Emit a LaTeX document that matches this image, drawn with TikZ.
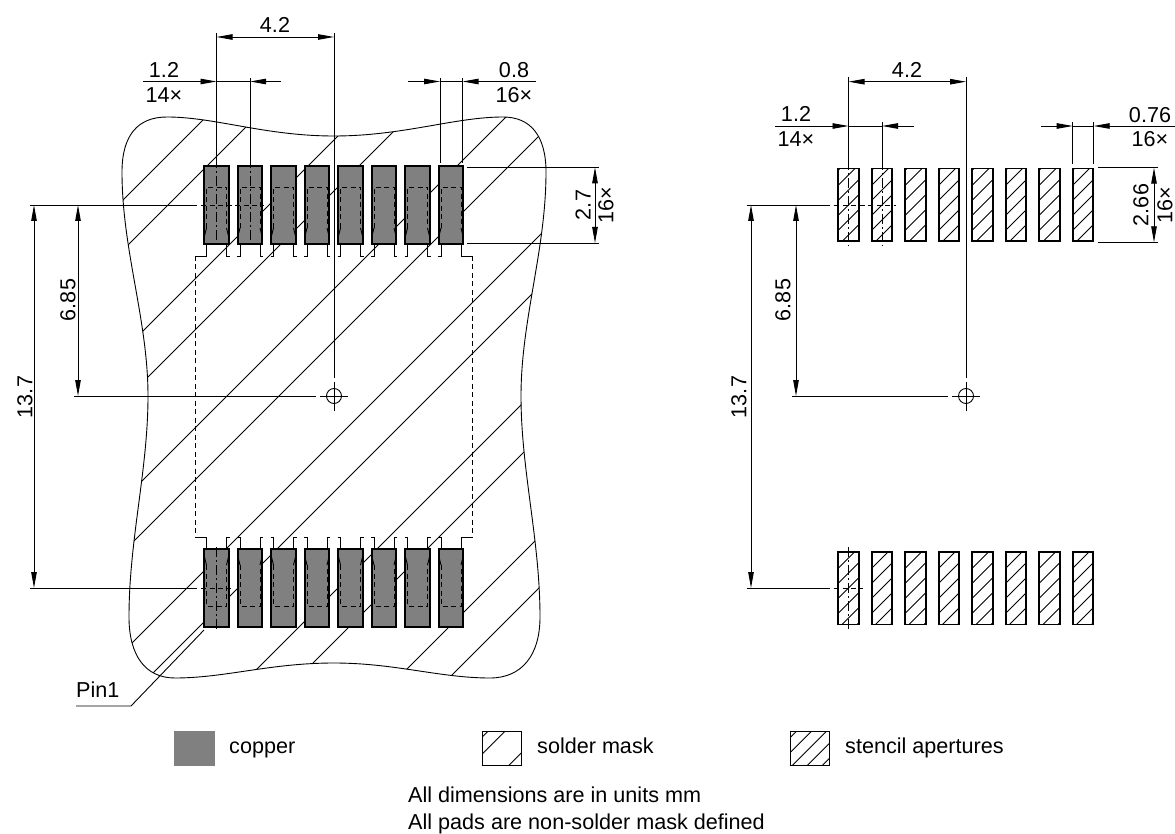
\documentclass[tikz,border=0pt]{standalone}
\usepackage{fontspec}
\setmainfont{Liberation Sans}
\usetikzlibrary{arrows.meta}
\pgfdeclarelayer{edgelayer}
\pgfdeclarelayer{nodelayer}
\pgfsetlayers{edgelayer,nodelayer,main}
\newcommand{\maskoutline}{(167,117) .. controls (215,117) and (265,136) .. (334,136) .. controls (403,136) and (455,117) .. (503,117) .. controls (530,117) and (546,135) .. (546,172) .. controls (546,250) and (521,320) .. (521,396) .. controls (521,470) and (540,540) .. (540,617) .. controls (540,655) and (522,678) .. (490,678) .. controls (440,678) and (395,663) .. (334,663) .. controls (270,663) and (225,678) .. (175,678) .. controls (145,678) and (129,655) .. (129,617) .. controls (129,540) and (148,470) .. (148,396) .. controls (148,320) and (122,250) .. (122,172) .. controls (122,135) and (138,117) .. (167,117) -- cycle}
\tikzstyle{none}=[inner sep=0pt]
\tikzstyle{dimtext}=[inner sep=0pt,font=\fontsize{21.6}{26}\selectfont]
\tikzstyle{notetext}=[dimtext,anchor=base west]
\tikzstyle{dimtextup}=[dimtext,rotate=90]
\tikzstyle{copper}=[rectangle,inner sep=0pt,fill=black!50,draw=black,line width=1.8pt,minimum width=24.3pt,minimum height=77.3pt]
\tikzstyle{copperkey}=[rectangle,inner sep=0pt,fill=black!50,draw=black!50,line width=1pt,minimum width=40pt,minimum height=34pt]
\tikzstyle{stencilhatch}=[path picture={\foreach \c in {-90,-75,...,90} \draw [line width=0.8pt,shift={(path picture bounding box.center)}] (\c+60,-60) -- (\c-60,60);}]
\tikzstyle{stencil}=[rectangle,inner sep=0pt,draw=black,stencilhatch,line width=1.8pt,minimum width=20.6pt,minimum height=72.8pt]
\tikzstyle{stencilkey}=[rectangle,inner sep=0pt,draw=black,stencilhatch,line width=0.9pt,minimum width=39pt,minimum height=34pt]
\tikzstyle{maskkey}=[rectangle,inner sep=0pt,draw=black,line width=0.9pt,minimum width=39pt,minimum height=34pt,path picture={\foreach \c in {-31,-14,24} \draw [line width=0.8pt,shift={(path picture bounding box.center)}] (\c+60,-60) -- (\c-60,60);}]
\tikzstyle{simple}=[-,draw=black,line width=0.9pt]
\tikzstyle{dimension}=[-{Triangle[length=16pt,width=5.5pt]},draw=black,line width=0.9pt]
\tikzstyle{twoway}=[{Triangle[length=16pt,width=5.5pt]}-{Triangle[length=16pt,width=5.5pt]},draw=black,line width=0.9pt]
\tikzstyle{hiddenline}=[-,draw=black,line width=0.8pt,dash pattern=on 5pt off 3.5pt]
\tikzstyle{centerline}=[-,draw=black,line width=0.8pt,dash pattern=on 10pt off 3pt on 2pt off 3pt]
\begin{document}
\begin{tikzpicture}[x=1pt,y=-1pt]
	\useasboundingbox (0,0) rectangle (1175,834);
	\begin{pgfonlayer}{edgelayer}
		\draw [style=simple] \maskoutline;
		\begin{scope}
			\clip \maskoutline;
			\foreach \c in {323,373,474,525,623,675,775,826,926,976,1076,1127}
				\draw [style=simple] (\c-800,800) -- (\c-50,50);
		\end{scope}
	\end{pgfonlayer}
	\begin{pgfonlayer}{nodelayer}
		\node [style=copper] (0) at (216.5, 205) {};
		\node [style=copper] (1) at (250, 205) {};
		\node [style=copper] (2) at (283.5, 205) {};
		\node [style=copper] (3) at (317, 205) {};
		\node [style=copper] (4) at (350.5, 205) {};
		\node [style=copper] (5) at (384, 205) {};
		\node [style=copper] (6) at (417.5, 205) {};
		\node [style=copper] (7) at (451, 205) {};
		\node [style=copper] (8) at (216.5, 588) {};
		\node [style=copper] (9) at (250, 588) {};
		\node [style=copper] (10) at (283.5, 588) {};
		\node [style=copper] (11) at (317, 588) {};
		\node [style=copper] (12) at (350.5, 588) {};
		\node [style=copper] (13) at (384, 588) {};
		\node [style=copper] (14) at (417.5, 588) {};
		\node [style=copper] (15) at (451, 588) {};
		\node [style=stencil] (16) at (848.5, 205) {};
		\node [style=stencil] (17) at (882, 205) {};
		\node [style=stencil] (18) at (915.5, 205) {};
		\node [style=stencil] (19) at (949, 205) {};
		\node [style=stencil] (20) at (982.5, 205) {};
		\node [style=stencil] (21) at (1016, 205) {};
		\node [style=stencil] (22) at (1049.5, 205) {};
		\node [style=stencil] (23) at (1083, 205) {};
		\node [style=stencil] (24) at (848.5, 588) {};
		\node [style=stencil] (25) at (882, 588) {};
		\node [style=stencil] (26) at (915.5, 588) {};
		\node [style=stencil] (27) at (949, 588) {};
		\node [style=stencil] (28) at (982.5, 588) {};
		\node [style=stencil] (29) at (1016, 588) {};
		\node [style=stencil] (30) at (1049.5, 588) {};
		\node [style=stencil] (31) at (1083, 588) {};
		\node [style=copperkey] (32) at (194.3, 748) {};
		\node [style=maskkey] (33) at (502.2, 748) {};
		\node [style=stencilkey] (34) at (809.7, 748) {};
	\end{pgfonlayer}
	\foreach \x in {216.5,250,283.5,317,350.5,384,417.5,451} {
		\draw [style=hiddenline] (\x-10,228) -- (\x-10,187) -- (\x+10,187) -- (\x+10,228);
		\draw [style=hiddenline] (\x-10,565) -- (\x-10,606) -- (\x+10,606) -- (\x+10,565);
		\draw [style=simple] (\x-10,228) -- (\x-12,236) -- (\x-12,245) (\x+10,228) -- (\x+12,236) -- (\x+12,245);
		\draw [style=simple] (\x-10,565) -- (\x-12,557) -- (\x-12,548) (\x+10,565) -- (\x+12,557) -- (\x+12,548);
		\draw [style=simple] (\x-13,256) -- (\x-10,256) -- (\x-10,245) (\x+13,256) -- (\x+10,256) -- (\x+10,245);
		\draw [style=simple] (\x-13,537.5) -- (\x-10,537.5) -- (\x-10,548) (\x+13,537.5) -- (\x+10,537.5) -- (\x+10,548);
	}
	\node [style=none] (35) at (195.7, 256) {};
	\node [style=none] (36) at (206.5, 256) {};
	\node [style=none] (37) at (461, 256) {};
	\node [style=none] (38) at (472.5, 256) {};
	\node [style=none] (39) at (195.7, 537.5) {};
	\node [style=none] (40) at (206.5, 537.5) {};
	\node [style=none] (41) at (461, 537.5) {};
	\node [style=none] (42) at (472.5, 537.5) {};
	\node [style=none] (43) at (216.5, 33) {};
	\node [style=none] (44) at (216.5, 158) {};
	\node [style=none] (45) at (216.5, 247) {};
	\node [style=none] (46) at (334, 33) {};
	\node [style=none] (47) at (334, 378) {};
	\node [style=none] (48) at (334, 382) {};
	\node [style=none] (49) at (334, 411) {};
	\node [style=none] (50) at (74, 396) {};
	\node [style=none] (51) at (316, 396) {};
	\node [style=none] (52) at (320, 396) {};
	\node [style=none] (53) at (348, 396) {};
	\node [style=none] (54) at (216.5, 37) {};
	\node [style=none] (55) at (334, 37) {};
	\node [style=none] (56) at (143, 81.5) {};
	\node [style=none] (57) at (216.5, 81.5) {};
	\node [style=none] (58) at (250, 81.5) {};
	\node [style=none] (59) at (281, 81.5) {};
	\node [style=none] (60) at (250, 78) {};
	\node [style=none] (61) at (250, 158) {};
	\node [style=none] (62) at (250, 247) {};
	\node [style=none] (63) at (440, 78) {};
	\node [style=none] (64) at (440, 163) {};
	\node [style=none] (65) at (462.5, 78) {};
	\node [style=none] (66) at (462.5, 163) {};
	\node [style=none] (67) at (408, 81.5) {};
	\node [style=none] (68) at (440, 81.5) {};
	\node [style=none] (69) at (462.5, 81.5) {};
	\node [style=none] (70) at (536, 81.5) {};
	\node [style=none] (71) at (467, 167.3) {};
	\node [style=none] (72) at (599, 167.3) {};
	\node [style=none] (73) at (467, 243) {};
	\node [style=none] (74) at (599, 243) {};
	\node [style=none] (75) at (595, 167.3) {};
	\node [style=none] (76) at (595, 243) {};
	\node [style=none] (77) at (30, 205) {};
	\node [style=none] (78) at (197, 205) {};
	\node [style=none] (79) at (201, 205) {};
	\node [style=none] (80) at (264, 205) {};
	\node [style=none] (81) at (30, 588) {};
	\node [style=none] (82) at (197, 588) {};
	\node [style=none] (83) at (201, 588) {};
	\node [style=none] (84) at (231, 588) {};
	\node [style=none] (85) at (216.5, 547) {};
	\node [style=none] (86) at (216.5, 630) {};
	\node [style=none] (87) at (78, 205) {};
	\node [style=none] (88) at (78, 396) {};
	\node [style=none] (89) at (34, 205) {};
	\node [style=none] (90) at (34, 588) {};
	\node [style=none] (91) at (76, 706) {};
	\node [style=none] (92) at (131, 706) {};
	\node [style=none] (93) at (204, 630) {};
	\node [style=none] (94) at (334, 396) {};
	\node [style=none] (95) at (848.5, 77) {};
	\node [style=none] (96) at (848.5, 160) {};
	\node [style=none] (97) at (848.5, 246) {};
	\node [style=none] (98) at (966, 77) {};
	\node [style=none] (99) at (966, 378) {};
	\node [style=none] (100) at (966, 382) {};
	\node [style=none] (101) at (966, 411) {};
	\node [style=none] (102) at (792, 396) {};
	\node [style=none] (103) at (948, 396) {};
	\node [style=none] (104) at (952, 396) {};
	\node [style=none] (105) at (980, 396) {};
	\node [style=none] (106) at (848.5, 81.7) {};
	\node [style=none] (107) at (966, 81.7) {};
	\node [style=none] (108) at (775, 126) {};
	\node [style=none] (109) at (848.5, 126) {};
	\node [style=none] (110) at (882, 126) {};
	\node [style=none] (111) at (913.6, 126) {};
	\node [style=none] (112) at (882, 122) {};
	\node [style=none] (113) at (882, 160) {};
	\node [style=none] (114) at (882, 246) {};
	\node [style=none] (115) at (1072.7, 122) {};
	\node [style=none] (116) at (1072.7, 164) {};
	\node [style=none] (117) at (1093.7, 122) {};
	\node [style=none] (118) at (1093.7, 164) {};
	\node [style=none] (119) at (1041, 126) {};
	\node [style=none] (120) at (1072.7, 126) {};
	\node [style=none] (121) at (1093.7, 126) {};
	\node [style=none] (122) at (1175, 126) {};
	\node [style=none] (123) at (1098, 167.7) {};
	\node [style=none] (124) at (1158, 167.7) {};
	\node [style=none] (125) at (1098, 242.3) {};
	\node [style=none] (126) at (1158, 242.3) {};
	\node [style=none] (127) at (1154, 167.7) {};
	\node [style=none] (128) at (1154, 242.3) {};
	\node [style=none] (129) at (746.7, 205) {};
	\node [style=none] (130) at (830, 205) {};
	\node [style=none] (131) at (834, 205) {};
	\node [style=none] (132) at (896, 205) {};
	\node [style=none] (133) at (746.7, 588) {};
	\node [style=none] (134) at (830, 588) {};
	\node [style=none] (135) at (834, 588) {};
	\node [style=none] (136) at (863, 588) {};
	\node [style=none] (137) at (848.5, 547) {};
	\node [style=none] (138) at (848.5, 629) {};
	\node [style=none] (139) at (796, 205) {};
	\node [style=none] (140) at (796, 396) {};
	\node [style=none] (141) at (751, 205) {};
	\node [style=none] (142) at (751, 588) {};
	\node [style=none] (143) at (966, 396) {};
	\node [style=dimtext] (144) at (275, 25) {4.2};
	\node [style=dimtext] (145) at (164, 70) {1.2};
	\node [style=dimtext] (146) at (164, 95) {14×};
	\node [style=dimtext] (147) at (514, 70) {0.8};
	\node [style=dimtext] (148) at (514, 95) {16×};
	\node [style=dimtextup] (149) at (583, 205) {2.7};
	\node [style=dimtextup] (150) at (606, 205) {16×};
	\node [style=dimtextup] (151) at (68, 300) {6.85};
	\node [style=dimtextup] (152) at (25, 397) {13.7};
	\node [style=notetext] (153) at (76, 697) {Pin1};
	\node [style=dimtext] (154) at (907, 70) {4.2};
	\node [style=dimtext] (155) at (796, 114) {1.2};
	\node [style=dimtext] (156) at (796, 139) {14×};
	\node [style=dimtext] (157) at (1150, 115) {0.76};
	\node [style=dimtext] (158) at (1150, 139) {16×};
	\node [style=dimtextup] (159) at (1141, 205) {2.66};
	\node [style=dimtextup] (160) at (1165, 205) {16×};
	\node [style=dimtextup] (161) at (783, 300) {6.85};
	\node [style=dimtextup] (162) at (739, 397) {13.7};
	\node [style=notetext] (163) at (229, 753) {copper};
	\node [style=notetext] (164) at (537, 753) {solder mask};
	\node [style=notetext] (165) at (845, 753) {stencil apertures};
	\node [style=notetext] (166) at (408, 802.7) {All dimensions are in units mm};
	\node [style=notetext] (167) at (408, 829.3) {All pads are non-solder mask defined};
	\draw [style=simple] (35.center) to (36.center);
	\draw [style=simple] (37.center) to (38.center);
	\draw [style=simple] (39.center) to (40.center);
	\draw [style=simple] (41.center) to (42.center);
	\draw [style=hiddenline] (35.center) to (39.center);
	\draw [style=hiddenline] (38.center) to (42.center);
	\draw [style=simple] (43.center) to (44.center);
	\draw [style=centerline] (44.center) to (45.center);
	\draw [style=simple] (46.center) to (47.center);
	\draw [style=simple] (48.center) to (49.center);
	\draw [style=simple] (50.center) to (51.center);
	\draw [style=simple] (52.center) to (53.center);
	\draw [style=simple] (94) circle (7.5);
	\draw [style=twoway] (54.center) to (55.center);
	\draw [style=dimension] (56.center) to (57.center);
	\draw [style=simple] (57.center) to (58.center);
	\draw [style=dimension] (59.center) to (58.center);
	\draw [style=simple] (60.center) to (61.center);
	\draw [style=centerline] (61.center) to (62.center);
	\draw [style=simple] (63.center) to (64.center);
	\draw [style=simple] (65.center) to (66.center);
	\draw [style=dimension] (67.center) to (68.center);
	\draw [style=simple] (68.center) to (69.center);
	\draw [style=dimension] (70.center) to (69.center);
	\draw [style=simple] (71.center) to (72.center);
	\draw [style=simple] (73.center) to (74.center);
	\draw [style=twoway] (75.center) to (76.center);
	\draw [style=simple] (77.center) to (78.center);
	\draw [style=hiddenline] (79.center) to (80.center);
	\draw [style=simple] (81.center) to (82.center);
	\draw [style=hiddenline] (83.center) to (84.center);
	\draw [style=centerline] (85.center) to (86.center);
	\draw [style=twoway] (87.center) to (88.center);
	\draw [style=twoway] (89.center) to (90.center);
	\draw [style=simple] (91.center) to (92.center) to (93.center);
	\draw [style=simple] (95.center) to (96.center);
	\draw [style=centerline] (96.center) to (97.center);
	\draw [style=simple] (98.center) to (99.center);
	\draw [style=simple] (100.center) to (101.center);
	\draw [style=simple] (102.center) to (103.center);
	\draw [style=simple] (104.center) to (105.center);
	\draw [style=simple] (143) circle (7.5);
	\draw [style=twoway] (106.center) to (107.center);
	\draw [style=dimension] (108.center) to (109.center);
	\draw [style=simple] (109.center) to (110.center);
	\draw [style=dimension] (111.center) to (110.center);
	\draw [style=simple] (112.center) to (113.center);
	\draw [style=centerline] (113.center) to (114.center);
	\draw [style=simple] (115.center) to (116.center);
	\draw [style=simple] (117.center) to (118.center);
	\draw [style=dimension] (119.center) to (120.center);
	\draw [style=simple] (120.center) to (121.center);
	\draw [style=dimension] (122.center) to (121.center);
	\draw [style=simple] (123.center) to (124.center);
	\draw [style=simple] (125.center) to (126.center);
	\draw [style=twoway] (127.center) to (128.center);
	\draw [style=simple] (129.center) to (130.center);
	\draw [style=hiddenline] (131.center) to (132.center);
	\draw [style=simple] (133.center) to (134.center);
	\draw [style=hiddenline] (135.center) to (136.center);
	\draw [style=centerline] (137.center) to (138.center);
	\draw [style=twoway] (139.center) to (140.center);
	\draw [style=twoway] (141.center) to (142.center);
\end{tikzpicture}
\end{document}
